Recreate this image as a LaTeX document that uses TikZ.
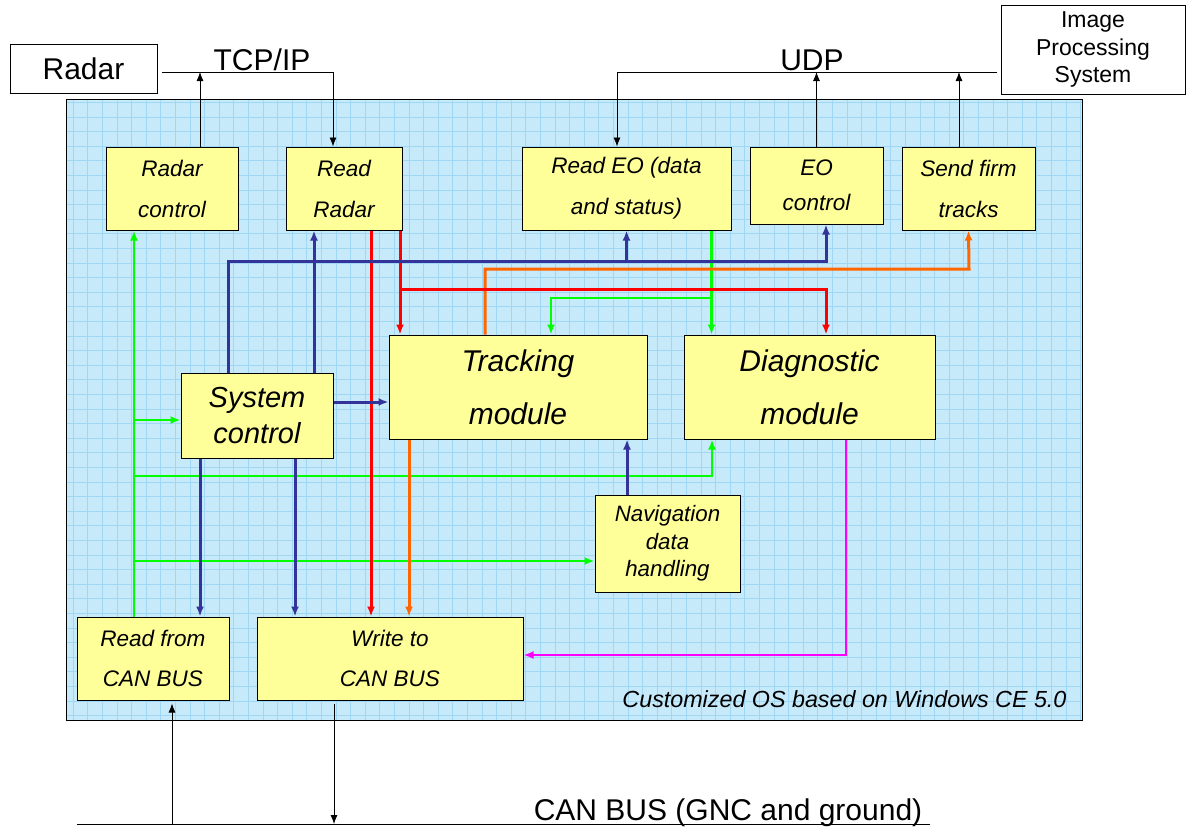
\documentclass[tikz,border=0pt]{standalone}
\usepackage{fontspec}
\setmainfont{Liberation Sans}
\usepackage{tikz}
\usetikzlibrary{arrows.meta,positioning,calc}
\definecolor{OSBlue}{RGB}{199,234,251}
\definecolor{GridBlue}{RGB}{160,215,245}
\definecolor{BoxYellow}{RGB}{255,255,153}
\definecolor{LinkBlue}{RGB}{51,51,153}
\definecolor{LinkRed}{RGB}{255,0,0}
\definecolor{LinkOrange}{RGB}{255,102,0}
\definecolor{LinkGreen}{RGB}{0,255,0}
\definecolor{LinkPink}{RGB}{255,0,255}
\newcommand{\fs}[2]{\fontsize{#1}{#2}\selectfont}

\begin{document}
\begin{tikzpicture}[
  x=1pt,y=-1pt,
  >={Latex[length=10pt,width=8pt]},
  ext/.style={draw,fill=white,line width=0.9pt,align=center,inner sep=0pt},
  task/.style={draw,fill=BoxYellow,line width=1pt,align=center,inner sep=0pt},
  small/.style={font=\itshape\fs{22.5}{41}},
  large/.style={font=\itshape\fs{30}{53}},
  wire/.style={-{Latex[length=9pt,width=7pt]},line width=0.8pt},
  blu/.style={->,LinkBlue,line width=3pt},
  red/.style={->,LinkRed,line width=3pt},
  org/.style={->,LinkOrange,line width=3pt},
  grn/.style={->,LinkGreen,line width=2.2pt},
  pnk/.style={->,LinkPink,line width=2pt}
]
\useasboundingbox (0,0) rectangle (1186,827);
\node[fill=OSBlue,minimum width=1015,minimum height=620] (os) at (574.5,410) {};
\draw[GridBlue,line width=0.6pt,step=14.6pt] (os.south west) grid (os.north east);
\draw[line width=1.2pt] (os.north west) rectangle (os.south east);
\node[ext,minimum width=147,minimum height=49,font=\fs{30}{36}] (radar) at (83.5,68.5) {Radar};
\node[ext,minimum width=184,minimum height=89,font=\fs{23}{27.5}] (ips) at (1093,49.5) {Image\\Processing\\System};
\node[font=\fs{30}{36},anchor=base] (tcp) at (262,70) {TCP/IP};
\node[font=\fs{30}{36},anchor=base] (udp) at (812,70) {UDP};
\node[font=\fs{30}{36},anchor=base] (can) at (728,820) {CAN BUS (GNC and ground)};
\node[task,small,minimum width=132,minimum height=83] (radarctl) at (172,188.5) {Radar\\control};
\node[task,small,minimum width=116,minimum height=83] (readradar) at (344,188.5) {Read\\Radar};
\node[task,small,minimum width=209,minimum height=83] (readeo) at (626.5,188.5) {Read EO (data\\and status)};
\node[task,font=\itshape\fs{22.5}{35},minimum width=133,minimum height=77] (eoctl) at (816.5,185.5) {EO\\control};
\node[task,small,minimum width=133,minimum height=83] (sendfirm) at (968.5,188.5) {Send firm\\tracks};
\node[task,font=\itshape\fs{29}{36},minimum width=152,minimum height=85] (sysctl) at (257,415.5) {System\\control};
\node[task,large,minimum width=258,minimum height=104] (tracking) at (518,387) {Tracking\\module};
\node[task,large,minimum width=251,minimum height=104] (diag) at (809.5,387) {Diagnostic\\module};
\node[task,font=\itshape\fs{22.3}{27.5},minimum width=145,minimum height=97] (nav) at (667.5,543.5) {Navigation\\data\\handling};
\node[task,font=\itshape\fs{22.5}{40},minimum width=152,minimum height=83] (readcan) at (153,658.5) {Read from\\CAN BUS};
\node[task,font=\itshape\fs{22.5}{40},minimum width=266,minimum height=83] (writecan) at (390,658.5) {Write to\\CAN BUS};
\node[font=\itshape\fs{23.3}{26},anchor=base east] (oslabel) at (1070,707) {Customized OS based on Windows CE 5.0};
\coordinate (tcpL) at (162,72);
\coordinate (udpR) at (997,72);
\coordinate (busL) at (77,824);
\coordinate (busR) at (930,824);
\draw[line width=0.8pt] (tcpL) -- (333,72);
\draw[wire] (333,72) -- ([xshift=-11pt]readradar.north);
\draw[wire] ([xshift=28pt]radarctl.north) -- ([xshift=28pt]radarctl.north |- tcpL);
\draw[line width=0.8pt] (udpR) -- (617,72);
\draw[wire] (617,72) -- ([xshift=-9.5pt]readeo.north);
\draw[wire] (eoctl.north) -- (eoctl.north |- udpR);
\draw[wire] ([xshift=-9.5pt]sendfirm.north) -- ([xshift=-9.5pt]sendfirm.north |- udpR);
\draw[line width=1pt] (busL) -- (busR);
\draw[wire] ([xshift=19pt]readcan.south |- busL) -- ([xshift=19pt,yshift=-3pt]readcan.south);
\draw[wire] ([xshift=-56pt,yshift=-3pt]writecan.south) -- ([xshift=-56pt]writecan.south |- busL);
\draw[grn] (711.5,298) -| ([xshift=33pt]tracking.north);
\draw[grn] ([xshift=85pt]readeo.south) -- ([xshift=85pt]readeo.south |- diag.north);
\draw[grn] ([xshift=-19pt]readcan.north) -- ([xshift=-19pt]readcan.north |- radarctl.south);
\draw[grn] (134,420) -- (sysctl.west |- 0,420);
\draw[grn] (134,476) -| ([xshift=-97.5pt]diag.south);
\draw[grn] (134,561) -- (nav.west |- 0,561);
\draw[org] ([xshift=-33pt]tracking.north) |- (969,269) -- (sendfirm.south);
\draw[org] ([xshift=-109pt]tracking.south) -- ([xshift=-109pt]tracking.south |- writecan.north);
\draw[red] ([xshift=27pt]readradar.south) -- ([xshift=27pt]readradar.south |- writecan.north);
\draw[red] ([xshift=56pt]readradar.south) -- ([xshift=56pt]readradar.south |- tracking.north);
\draw[red] (400,289) -| ([xshift=16.5pt]diag.north);
\draw[blu] ([xshift=-29pt]sysctl.north) |- (826,261) -- ([xshift=9.5pt]eoctl.south);
\draw[blu] (readeo.south |- 0,261) -- (readeo.south);
\draw[blu] ([xshift=57pt]sysctl.north) -- ([xshift=57pt]sysctl.north |- readradar.south);
\draw[blu] ([yshift=13.5pt]sysctl.east) -- ([yshift=13.5pt]sysctl.east -| tracking.west);
\draw[blu] ([xshift=-57pt]sysctl.south) -- ([xshift=-57pt]sysctl.south |- readcan.north);
\draw[blu] ([xshift=38pt]sysctl.south) -- ([xshift=38pt]sysctl.south |- writecan.north);
\draw[blu] ([xshift=-40.5pt]nav.north) -- ([xshift=-40.5pt]nav.north |- tracking.south);
\draw[pnk] ([xshift=36.5pt]diag.south) |- ([yshift=3.5pt]writecan.east);
\end{tikzpicture}
\end{document}
